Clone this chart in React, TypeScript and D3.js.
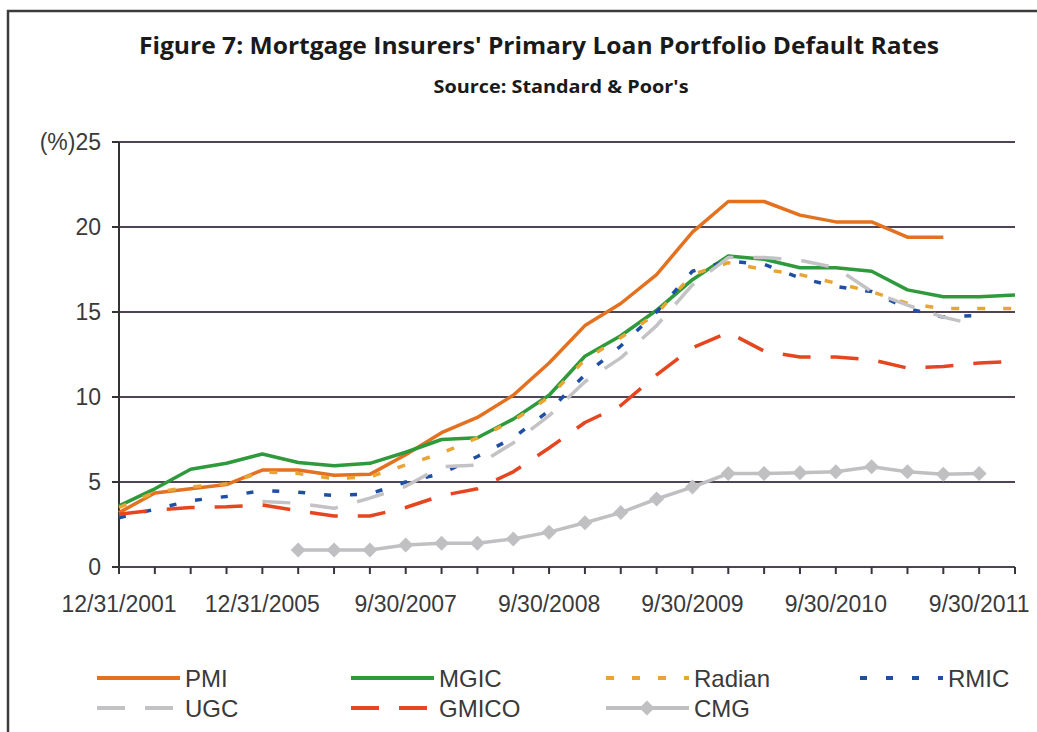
import React from 'react';
import * as d3 from 'd3';

// quarter-end dates on the category axis (annual until 2006, quarterly after)
const categories = [
  '12/31/2001', '12/31/2002', '12/31/2003', '12/31/2004', '12/31/2005', '12/31/2006',
  '3/31/2007', '6/30/2007', '9/30/2007', '12/31/2007', '3/31/2008', '6/30/2008',
  '9/30/2008', '12/31/2008', '3/31/2009', '6/30/2009', '9/30/2009', '12/31/2009',
  '3/31/2010', '6/30/2010', '9/30/2010', '12/31/2010', '3/31/2011', '6/30/2011',
  '9/30/2011', '12/31/2011',
];

const pmi = [3.2, 4.35, 4.6, 4.85, 5.7, 5.7, 5.4, 5.45, 6.6, 7.9, 8.8, 10.1, 12.0, 14.2, 15.5, 17.2, 19.7, 21.5, 21.5, 20.7, 20.3, 20.3, 19.4, 19.4, null, null];
const mgic = [3.6, 4.6, 5.75, 6.1, 6.65, 6.15, 5.95, 6.1, 6.75, 7.5, 7.6, 8.7, 10.1, 12.4, 13.6, 15.1, 16.9, 18.3, 18.1, 17.6, 17.6, 17.4, 16.3, 15.9, 15.9, 16.0];
const radian = [3.5, 4.4, 4.7, 4.9, 5.6, 5.5, 5.2, 5.3, 6.0, 6.7, 7.6, 8.6, 10.0, 12.2, 13.5, 14.9, 17.2, 17.9, 17.5, 17.2, 16.7, 16.2, 15.5, 15.2, 15.2, 15.2];
const rmic = [2.9, 3.4, 3.9, 4.15, 4.5, 4.4, 4.2, 4.3, 5.0, 5.5, 6.5, 7.6, 9.2, 11.3, 13.0, 15.0, 17.4, 18.0, 17.8, 17.0, 16.5, 16.2, 15.2, 14.7, 14.8, null];
const ugc = [null, null, null, null, 3.85, 3.75, 3.45, 4.05, 4.75, 5.9, 6.0, 7.3, 8.9, 10.9, 12.3, 14.2, 16.6, 18.2, 18.2, 18.05, 17.6, 16.2, 15.4, 14.7, 14.2, null];
const gmico = [3.1, 3.35, 3.5, 3.55, 3.65, 3.3, 3.0, 3.0, 3.5, 4.2, 4.6, 5.6, 7.0, 8.5, 9.5, 11.3, 12.9, 13.8, 12.7, 12.35, 12.35, 12.2, 11.7, 11.8, 12.0, 12.1];
const cmg = [null, null, null, null, null, 1.0, 1.0, 1.0, 1.3, 1.4, 1.4, 1.65, 2.05, 2.6, 3.2, 4.0, 4.7, 5.5, 5.5, 5.55, 5.6, 5.9, 5.6, 5.45, 5.5, null];

const seriesNames = ['PMI', 'MGIC', 'Radian', 'RMIC', 'UGC', 'GMICO', 'CMG'];
const seriesValues = [pmi, mgic, radian, rmic, ugc, gmico, cmg];
const yTicks = [0, 5, 10, 15, 20, 25];

const seriesStyle = {
  PMI: { color: '#e4711f', dash: null },
  MGIC: { color: '#2f9a3b', dash: null },
  Radian: { color: '#e9a534', dash: '8,18' },
  RMIC: { color: '#1f4fa3', dash: '7,19' },
  UGC: { color: '#c3c3c6', dash: '28,20' },
  GMICO: { color: '#e5461f', dash: '28,20' },
  CMG: { color: '#c0c0c3', dash: null },
};

const width = 1037;
const height = 732;
const plot = { left: 119, right: 1015, top: 142, bottom: 567 };
const font = "'Liberation Sans', Arial, sans-serif";
const titleFont = "'Liberation Sans Narrow', 'Open Sans', sans-serif";

const diamond = (cx, cy, r) => `M${cx},${cy - r}L${cx + r},${cy}L${cx},${cy + r}L${cx - r},${cy}Z`;

const App = () => {
  const x = d3.scalePoint().domain(categories).range([plot.left, plot.right]).padding(0);
  const y = d3.scaleLinear().domain([0, 25]).range([plot.bottom, plot.top]);

  const line = d3.line()
    .defined((d) => d != null)
    .x((d, i) => x(categories[i]))
    .y((d) => y(d));

  const legendCols = [97, 351, 606, 860];
  const legendRows = [678, 708];

  return (
    <>
      <style>{`body { margin: 0; }`}</style>
      <svg width={width} height={height} style={{ display: 'block', background: '#fff' }}>
        {/* frame */}
        <path d={`M8,${height}V11H${width}`} fill="none" stroke="#3c3c3c" strokeWidth={2.5} />

        <text x={539} y={54} textAnchor="middle" textLength={800} lengthAdjust="spacingAndGlyphs"
          style={{ fontFamily: titleFont, fontWeight: 700, fontSize: 24, fill: '#1a1a1a' }}>
          Figure 7: Mortgage Insurers' Primary Loan Portfolio Default Rates
        </text>
        <text x={561} y={93} textAnchor="middle" textLength={255} lengthAdjust="spacingAndGlyphs"
          style={{ fontFamily: titleFont, fontWeight: 700, fontSize: 18, fill: '#1a1a1a' }}>
          Source: Standard &amp; Poor's
        </text>

        {/* gridlines */}
        {yTicks.map((t) => (
          <g key={t}>
            <line x1={plot.left} x2={plot.right} y1={y(t)} y2={y(t)} stroke="#4e4456" strokeWidth={2} />
            <line x1={plot.left - 7} x2={plot.left} y1={y(t)} y2={y(t)} stroke="#333" strokeWidth={2} />
            <text x={101} y={y(t)} dy="0.36em" textAnchor="end"
              style={{ fontFamily: font, fontSize: 23, fill: '#3a3a3a' }}>
              {t === 25 ? '(%)25' : t}
            </text>
          </g>
        ))}

        {/* axes */}
        <line x1={plot.left} x2={plot.left} y1={plot.top} y2={plot.bottom + 7} stroke="#333" strokeWidth={2} />
        {categories.map((c) => (
          <line key={c} x1={x(c)} x2={x(c)} y1={plot.bottom} y2={plot.bottom + 7} stroke="#3a3340" strokeWidth={2} />
        ))}
        {categories.map((c, i) => i % 4 === 0 && (
          <text key={c} x={x(c)} y={612} textAnchor="middle"
            style={{ fontFamily: font, fontSize: 23, fill: '#3a3a3a' }}>
            {c}
          </text>
        ))}

        {/* series */}
        {seriesNames.map((name, k) => {
          const st = seriesStyle[name];
          return (
            <path key={name} d={line(seriesValues[k])} fill="none" stroke={st.color}
              strokeWidth={3.5} strokeDasharray={st.dash || undefined} strokeLinejoin="round" />
          );
        })}
        {cmg.map((v, i) => v != null && (
          <path key={i} d={diamond(x(categories[i]), y(v), 7.5)} fill={seriesStyle.CMG.color} />
        ))}

        {/* legend */}
        {seriesNames.map((name, k) => {
          const st = seriesStyle[name];
          const lx = legendCols[k % 4];
          const ly = legendRows[Math.floor(k / 4)];
          return (
            <g key={name}>
              <line x1={lx} x2={lx + 83} y1={ly} y2={ly} stroke={st.color} strokeWidth={4}
                strokeDasharray={st.dash || undefined} />
              {name === 'CMG' && <path d={diamond(lx + 41, ly, 7.5)} fill={st.color} />}
              <text x={lx + 88} y={ly} dy="0.36em"
                style={{ fontFamily: font, fontSize: 24, fill: '#3a3a3a' }}>
                {name}
              </text>
            </g>
          );
        })}
      </svg>
    </>
  );
};

export default App;
